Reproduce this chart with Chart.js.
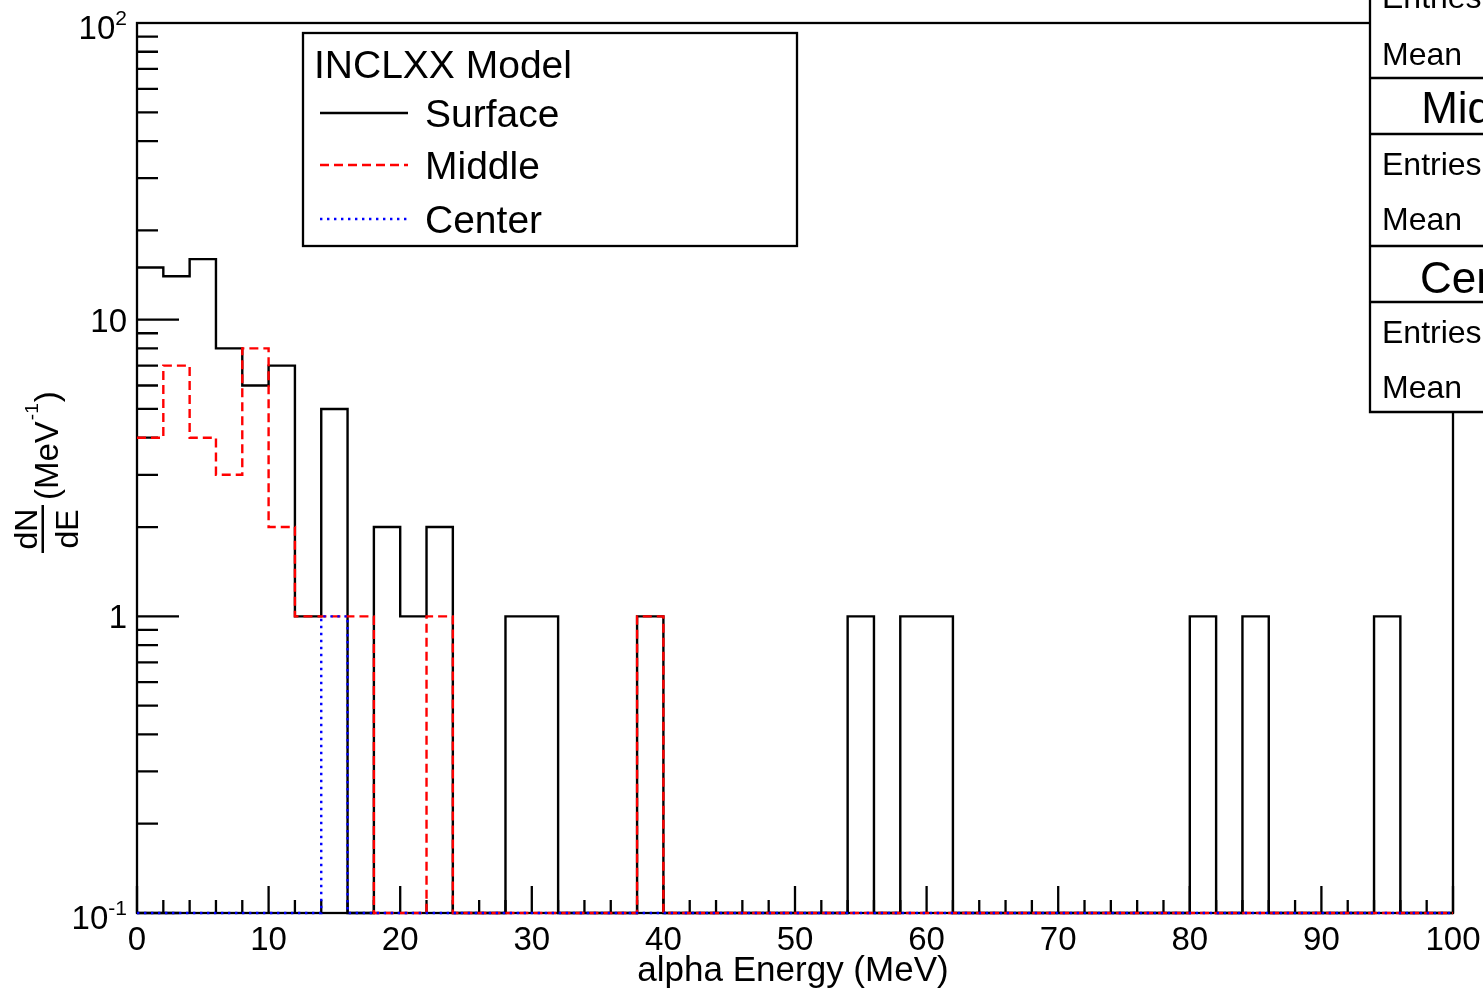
<!DOCTYPE html>
<html>
<head>
<meta charset="utf-8">
<title>alpha Energy</title>
<script src="https://cdn.jsdelivr.net/npm/chart.js@4.4.0/dist/chart.umd.min.js"></script>
<style>
  html, body { margin: 0; padding: 0; background: #fff; overflow: hidden; }
  canvas { display: block; }
</style>
</head>
<body>
<canvas id="histo" width="1483" height="993"></canvas>
<script>
// bin edges in MeV (2 MeV bins), 51 edges for 50 bins
const binEdges = [0, 2, 4, 6, 8, 10, 12, 14, 16, 18, 20, 22, 24, 26, 28, 30, 32, 34, 36, 38, 40,
  42, 44, 46, 48, 50, 52, 54, 56, 58, 60, 62, 64, 66, 68, 70, 72, 74, 76, 78, 80,
  82, 84, 86, 88, 90, 92, 94, 96, 98, 100];

// dN/dE per bin
const surface = [15, 14, 16, 8, 6, 7, 1, 5, 0, 2, 1, 2, 0, 0, 1, 1, 0, 0, 0, 1,
  0, 0, 0, 0, 0, 0, 0, 1, 0, 1, 1, 0, 0, 0, 0, 0, 0, 0, 0, 0,
  1, 0, 1, 0, 0, 0, 0, 1, 0, 0];
const middle = [4, 7, 4, 3, 8, 2, 1, 1, 1, 0, 0, 1, 0, 0, 0, 0, 0, 0, 0, 1,
  0, 0, 0, 0, 0, 0, 0, 0, 0, 0, 0, 0, 0, 0, 0, 0, 0, 0, 0, 0,
  0, 0, 0, 0, 0, 0, 0, 0, 0, 0];
const center = [0, 0, 0, 0, 0, 0, 0, 1, 0, 0, 0, 0, 0, 0, 0, 0, 0, 0, 0, 0,
  0, 0, 0, 0, 0, 0, 0, 0, 0, 0, 0, 0, 0, 0, 0, 0, 0, 0, 0, 0,
  0, 0, 0, 0, 0, 0, 0, 0, 0, 0];

const xTickValues = [0, 10, 20, 30, 40, 50, 60, 70, 80, 90, 100];
const xTickLabels = ['0', '10', '20', '30', '40', '50', '60', '70', '80', '90', '100'];
const yTickValues = [0.1, 1, 10, 100];
const yTickBase = ['10', '1', '10', '10'];
const yTickExp = ['-1', '', '', '2'];

const legendTitle = 'INCLXX Model';
const seriesNames = ['Surface', 'Middle', 'Center'];

const yMin = 0.1, yMax = 100;
const FONT = "'Liberation Sans', Arial, Helvetica, sans-serif";

// histogram outline: one point per low edge plus the closing edge
function steps(vals) {
  const pts = vals.map((v, i) => ({ x: binEdges[i], y: Math.max(v, yMin) }));
  pts.push({ x: binEdges[vals.length], y: Math.max(vals[vals.length - 1], yMin) });
  return pts;
}

const styles = [
  { color: '#000000', dash: [] },
  { color: '#ff0000', dash: [9, 5] },
  { color: '#0000ff', dash: [2.4, 4.6] }
];

function text(ctx, s, x, y, size, align) {
  ctx.font = size + 'px ' + FONT;
  ctx.textAlign = align || 'left';
  ctx.textBaseline = 'alphabetic';
  ctx.fillText(s, x, y);
}

const rootFrame = {
  id: 'rootFrame',
  beforeDatasetsDraw(chart) {
    const ctx = chart.ctx;
    const a = chart.chartArea;
    const xs = chart.scales.x, ys = chart.scales.y;
    ctx.save();
    ctx.strokeStyle = '#000';
    ctx.lineWidth = 2.3;
    ctx.strokeRect(a.left, a.top, a.right - a.left, a.bottom - a.top);

    ctx.beginPath();
    // x ticks: long every 10, short every 2
    for (let v = 0; v <= 100; v += 2) {
      const px = xs.getPixelForValue(v);
      const len = v % 10 === 0 ? 27 : 13;
      ctx.moveTo(px, a.bottom);
      ctx.lineTo(px, a.bottom - len);
    }
    // y ticks: long at decades, short at 2..9
    for (let d = 0.1; d < 100; d *= 10) {
      for (let k = 1; k <= 9; k++) {
        const v = d * k;
        const py = ys.getPixelForValue(v);
        const len = k === 1 ? 42 : 21;
        ctx.moveTo(a.left, py);
        ctx.lineTo(a.left + len, py);
      }
    }
    ctx.stroke();
    ctx.restore();
  },
  afterDatasetsDraw(chart) {
    const ctx = chart.ctx;
    const a = chart.chartArea;
    const xs = chart.scales.x, ys = chart.scales.y;
    ctx.save();
    ctx.fillStyle = '#000';

    // x tick labels
    xTickValues.forEach((v, i) => {
      text(ctx, xTickLabels[i], xs.getPixelForValue(v), a.bottom + 37, 33, 'center');
    });

    // y tick labels, powers of ten with superscripts
    yTickValues.forEach((v, i) => {
      const py = ys.getPixelForValue(v);
      const base = yTickBase[i], exp = yTickExp[i];
      ctx.font = '33px ' + FONT;
      const wb = ctx.measureText(base).width;
      ctx.font = '21px ' + FONT;
      const we = exp ? ctx.measureText(exp).width : 0;
      const right = 127;
      const by = py + (exp ? 16 : 12);
      text(ctx, base, right - we - wb, by, 33);
      if (exp) text(ctx, exp, right - we, by - 14, 21);
    });

    // axis titles
    text(ctx, 'alpha Energy (MeV)', (a.left + a.right) / 2 - 2, 981, 35, 'center');

    ctx.save();
    ctx.translate(0, 553);
    ctx.rotate(-Math.PI / 2);
    text(ctx, 'dN', 24, 37, 32, 'center');
    ctx.fillRect(0, 41.5, 48, 2.5);
    text(ctx, 'dE', 24, 78, 32, 'center');
    ctx.font = '33px ' + FONT;
    let u = 53;
    text(ctx, '(MeV', u, 58, 33);
    u += ctx.measureText('(MeV').width + 1;
    text(ctx, '-1', u, 38, 19);
    ctx.font = '19px ' + FONT;
    u += ctx.measureText('-1').width + 1;
    text(ctx, ')', u, 58, 33);
    ctx.restore();

    // legend box
    ctx.fillStyle = '#fff';
    ctx.fillRect(303, 33, 494, 213);
    ctx.strokeStyle = '#000';
    ctx.lineWidth = 2.3;
    ctx.strokeRect(303, 33, 494, 213);
    ctx.fillStyle = '#000';
    text(ctx, legendTitle, 314, 78, 39);
    const rowY = [113, 165, 219];
    seriesNames.forEach((name, i) => {
      ctx.beginPath();
      ctx.setLineDash(styles[i].dash);
      ctx.strokeStyle = styles[i].color;
      ctx.moveTo(320, rowY[i]);
      ctx.lineTo(408, rowY[i]);
      ctx.stroke();
      ctx.setLineDash([]);
      text(ctx, name, 425, rowY[i] + 14, 39);
    });

    // statistics boxes at the right edge
    ctx.fillStyle = '#fff';
    ctx.fillRect(1370, -5, 200, 417);
    ctx.strokeStyle = '#000';
    ctx.lineWidth = 2.3;
    ctx.beginPath();
    ctx.moveTo(1370, -5);
    ctx.lineTo(1370, 412);
    ctx.lineTo(1600, 412);
    [78, 134, 246, 302].forEach(y => {
      ctx.moveTo(1370, y);
      ctx.lineTo(1600, y);
    });
    ctx.stroke();
    ctx.fillStyle = '#000';
    text(ctx, 'Entries', 1382, 8, 32);
    text(ctx, 'Mean', 1382, 65, 32);
    text(ctx, seriesNames[1], 1486, 123, 44, 'center');
    text(ctx, 'Entries', 1382, 175, 32);
    text(ctx, 'Mean', 1382, 230, 32);
    text(ctx, seriesNames[2], 1486, 293, 44, 'center');
    text(ctx, 'Entries', 1382, 343, 32);
    text(ctx, 'Mean', 1382, 398, 32);
    ctx.restore();
  }
};

const datasets = [surface, middle, center].map((vals, i) => ({
  label: seriesNames[i],
  data: steps(vals),
  borderColor: styles[i].color,
  borderDash: styles[i].dash,
  borderWidth: 2.4,
  stepped: 'before',
  pointRadius: 0,
  fill: false,
  clip: false,
  order: 3 - i
}));

new Chart(document.getElementById('histo'), {
  type: 'line',
  data: { datasets: datasets },
  options: {
    responsive: false,
    animation: false,
    events: [],
    layout: { padding: { left: 137, right: 30, top: 23, bottom: 80 } },
    plugins: {
      legend: { display: false },
      tooltip: { enabled: false }
    },
    scales: {
      x: { type: 'linear', min: 0, max: 100, display: false },
      y: { type: 'logarithmic', min: yMin, max: yMax, display: false }
    }
  },
  plugins: [rootFrame]
});
</script>
</body>
</html>
